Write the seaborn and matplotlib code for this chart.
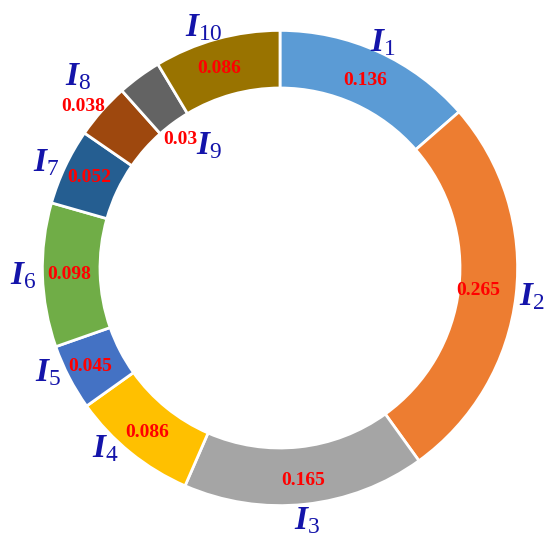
import numpy as np
import matplotlib
matplotlib.use('Agg')
import matplotlib.pyplot as plt
import seaborn as sns

# ── Data ───────────────────────────────────────────────────────────────────
indices = ['1', '2', '3', '4', '5', '6', '7', '8', '9', '10']
weights = [0.136, 0.265, 0.165, 0.086, 0.045, 0.098, 0.052, 0.038, 0.03, 0.086]
value_labels = ['0.136', '0.265', '0.165', '0.086', '0.045',
                '0.098', '0.052', '0.038', '0.03', '0.086']
colors = ['#5B9BD5', '#ED7D31', '#A5A5A5', '#FFC000', '#4472C4',
          '#70AD47', '#255E91', '#9E480E', '#636363', '#997300']

# label placement (radius relative to outer ring, angle tweak in degrees)
value_r = [0.86, 0.83, 0.89, 0.88, 0.89, 0.88, 0.88, 1.06, 0.68, 0.87]
value_da = [0, 0, 0, 0, 0, 0, 0, 2, 1.5, 1.5]
name_r = [1.03, 1.055, 1.06, 1.05, 1.06, 1.07, 1.07, 1.16, 0.59, 1.05]
name_da = [0, 0, 0, -5, -3, 0, 1, -2, -6, 2]

sns.set_theme(style='white')
plt.rcParams['font.family'] = ['Liberation Serif', 'DejaVu Serif']
plt.rcParams['mathtext.fontset'] = 'custom'
plt.rcParams['mathtext.it'] = 'Liberation Serif:italic:bold'
plt.rcParams['mathtext.rm'] = 'Liberation Serif'
plt.rcParams['mathtext.bf'] = 'Liberation Serif:bold'

palette = sns.color_palette(colors)

fig = plt.figure(figsize=(5.5, 5.47), dpi=100)
ax = fig.add_axes([0, 0, 1, 1])
wedges, _ = ax.pie(weights, colors=palette, startangle=90, counterclock=False,
                   radius=0.99,
                   wedgeprops=dict(width=0.24, edgecolor='white', linewidth=2))

for w, idx, val, vr, vda, nr, nda in zip(wedges, indices, value_labels,
                                          value_r, value_da, name_r, name_da):
    mid = np.deg2rad((w.theta1 + w.theta2) / 2 + vda)
    ax.text(vr * np.cos(mid), vr * np.sin(mid), val, color='#FF0000',
            fontsize=14, fontweight='bold', ha='center', va='center')
    mid = np.deg2rad((w.theta1 + w.theta2) / 2 + nda)
    ax.text(nr * np.cos(mid), nr * np.sin(mid), f'$I_{{{idx}}}$',
            color='#1414AA', fontsize=24, ha='center', va='center')

ax.set_xlim(-280 / 240, 270 / 240)
ax.set_ylim(-279 / 240, 268 / 240)
ax.set_aspect('equal', adjustable='datalim')
ax.axis('off')

plt.savefig('out.png', dpi=100)
plt.close()
